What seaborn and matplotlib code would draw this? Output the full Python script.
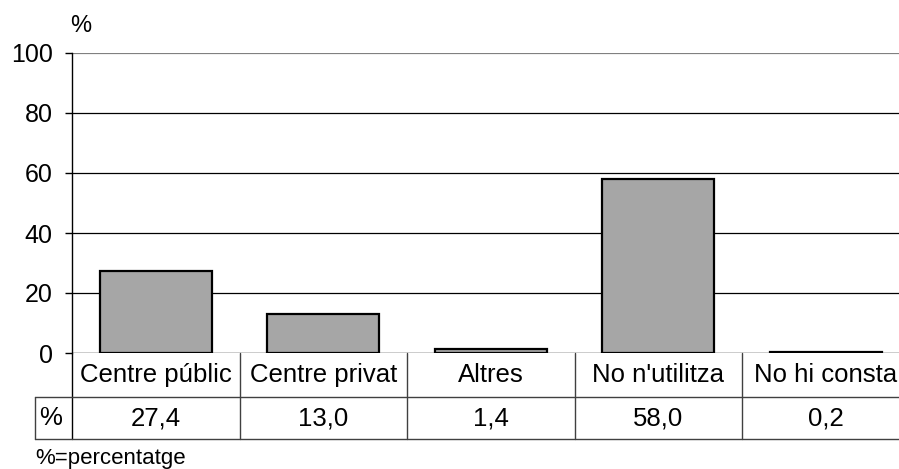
import matplotlib
matplotlib.use("Agg")
import matplotlib.pyplot as plt
import matplotlib.transforms as mtransforms
import seaborn as sns
import pandas as pd

categories = ["Centre públic", "Centre privat", "Altres", "No n'utilitza", "No hi consta"]
values = [27.4, 13.0, 1.4, 58.0, 0.2]
value_labels = ["27,4", "13,0", "1,4", "58,0", "0,2"]
yticks = [0, 20, 40, 60, 80, 100]

sns.set_style("white")
plt.rcParams["font.family"] = ["Liberation Sans", "DejaVu Sans"]
plt.rcParams["text.color"] = "black"
plt.rcParams["ytick.color"] = "black"
plt.rcParams["ytick.labelcolor"] = "black"
FS = 18.5

df = pd.DataFrame({"cat": categories, "val": values})

fig = plt.figure(figsize=(8.99, 4.69), dpi=100)
W, H = 899, 469
# axes: left 72px, top 53px, bottom 353px, column width 167.5px
col_w = 167.5
ax = fig.add_axes([72 / W, (H - 353) / H, 5 * col_w / W, 300 / H])

for y in yticks[1:-1]:
    ax.axhline(y, color="black", lw=0.9, zorder=0)
ax.axhline(100, color="#808080", lw=1.6, zorder=0)

sns.barplot(data=df, x="cat", y="val", color="#A6A6A6", saturation=1,
            edgecolor="black", linewidth=1.6, width=0.67, ax=ax, zorder=2)

ax.set_xlim(-0.5, 4.5)
ax.set_ylim(0, 100)
ax.set_yticks(yticks)
ax.set_yticklabels([str(t) for t in yticks], fontsize=18, color="black")
ax.set_xticks([])
ax.set_xlabel("")
ax.set_ylabel("")
ax.tick_params(axis="y", direction="out", length=5, width=1, color="black", pad=9, left=True)
for s in ["top", "right", "bottom"]:
    ax.spines[s].set_visible(False)
ax.spines["left"].set_color("black")
ax.spines["left"].set_linewidth(1)
ax.axhline(0, color="black", lw=1, zorder=3)

# data table below the axes
tr = mtransforms.blended_transform_factory(ax.transData, ax.transAxes)
r1 = -44 / 300
r2 = -86 / 300
xl = -0.5 - 37 / col_w
lc = "#404040"
for i in range(6):
    x = -0.5 + i
    ax.plot([x, x], [0, r2], color=lc if i else "black", lw=1, transform=tr, clip_on=False)
ax.plot([xl, xl], [r1, r2], color=lc, lw=1, transform=tr, clip_on=False)
ax.plot([-0.5, 4.5], [r1, r1], color=lc, lw=1, transform=tr, clip_on=False)
ax.plot([xl, -0.5], [r1, r1], color=lc, lw=1, transform=tr, clip_on=False)
ax.plot([xl, 4.5], [r2, r2], color=lc, lw=1, transform=tr, clip_on=False)

for i, (c, v) in enumerate(zip(categories, value_labels)):
    ax.text(i, r1 / 2, c, ha="center", va="center", fontsize=FS, color="black", transform=tr)
    ax.text(i, (r1 + r2) / 2, v, ha="center", va="center", fontsize=FS, color="black", transform=tr)
ax.text(xl + 0.025, (r1 + r2) / 2, "%", ha="left", va="center", fontsize=FS, color="black", transform=tr)

fig.text(70 / W, 1 - 26 / H, "%", fontsize=17, ha="left", va="center", color="black")
fig.text(35 / W, 1 - 458 / H, "%=percentatge", fontsize=16, ha="left", va="center", color="black")

fig.savefig("out.png", dpi=100)
